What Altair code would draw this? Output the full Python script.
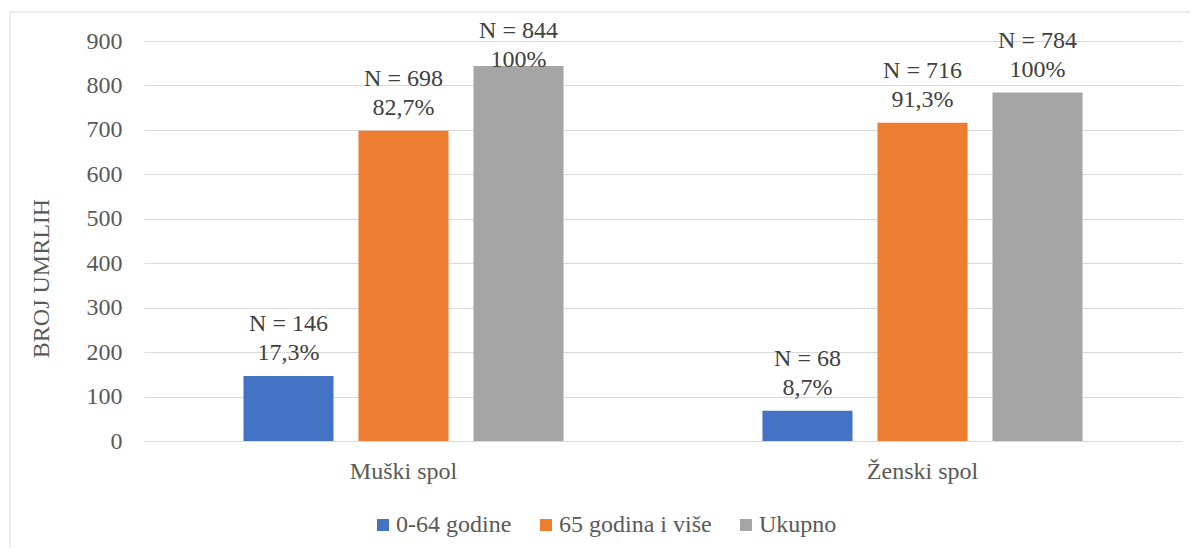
import altair as alt
import pandas as pd

categories = ["Muški spol", "Ženski spol"]
series = ["0-64 godine", "65 godina i više", "Ukupno"]
counts_male = [146, 698, 844]
counts_female = [68, 716, 784]
pct_male = ["17,3%", "82,7%", "100%"]
pct_female = ["8,7%", "91,3%", "100%"]
colors = ["#4472C4", "#ED7D31", "#A5A5A5"]
y_ticks = [0, 100, 200, 300, 400, 500, 600, 700, 800, 900]

rows = []
for cat, counts, pcts in [(categories[0], counts_male, pct_male),
                          (categories[1], counts_female, pct_female)]:
    for s, v, p in zip(series, counts, pcts):
        rows.append({"spol": cat, "grupa": s, "broj": v, "label": f"N = {v}\n{p}"})
df = pd.DataFrame(rows)

FONT = "Liberation Serif"
FS = 24

x_enc = alt.X("spol:N", sort=categories,
              scale=alt.Scale(paddingInner=0, paddingOuter=0),
              axis=alt.Axis(title=None, labelAngle=0, ticks=False, tickSize=0,
                            labelPadding=18, labelFont=FONT, labelFontSize=FS,
                            labelColor="#595959", domainColor="#d9d9d9",
                            domainWidth=1, grid=False))
xo_enc = alt.XOffset("grupa:N", sort=series,
                     scale=alt.Scale(paddingInner=0.217, paddingOuter=0.865))

base = alt.Chart(df)

bars = base.mark_bar().encode(
    x=x_enc,
    xOffset=xo_enc,
    y=alt.Y("broj:Q", scale=alt.Scale(domain=[0, 900], nice=False),
            axis=alt.Axis(values=y_ticks, title="BROJ UMRLIH", ticks=False,
                          tickSize=0, labelPadding=22, domain=False,
                          labelFont=FONT, labelFontSize=FS, labelColor="#595959",
                          gridColor="#d9d9d9", gridWidth=1,
                          titleFont=FONT, titleFontSize=24, titleFontWeight="normal",
                          titleColor="#595959", titleAngle=270, titleAlign="center",
                          titleBaseline="alphabetic", titleX=-96, titleY=237)),
    color=alt.Color("grupa:N", sort=series,
                    scale=alt.Scale(domain=series, range=colors),
                    legend=alt.Legend(title=None, orient="none", direction="horizontal",
                                      legendX=227, legendY=472,
                                      symbolType="square", symbolSize=144,
                                      symbolStrokeWidth=0, labelFont=FONT,
                                      labelFontSize=FS, labelColor="#595959",
                                      labelOffset=1, columnPadding=22)),
)

labels = base.transform_calculate(
    label_y="min(datum.broj, 805)"
).mark_text(font=FONT, fontSize=FS, color="#404040", baseline="bottom",
            lineBreak="\n", lineHeight=29, dy=-40).encode(
    x=alt.X("spol:N", sort=categories),
    xOffset=alt.XOffset("grupa:N", sort=series),
    y=alt.Y("label_y:Q"),
    text="label:N",
)

frame = alt.Chart(alt.Data(values=[{}])).mark_rect(
    filled=False, stroke="#d9d9d9", strokeWidth=1
).encode(x=alt.value(-134), x2=alt.value(1080), y=alt.value(-29), y2=alt.value(530))

chart = alt.layer(frame, bars, labels).properties(
    width=1038, height=400,
    autosize=alt.AutoSizeParams(type="none"),
    padding={"left": 136, "top": 33, "right": 8, "bottom": 107},
).configure_view(stroke=None)

chart.save("out.html", embed_options={"renderer": "svg", "actions": False})
